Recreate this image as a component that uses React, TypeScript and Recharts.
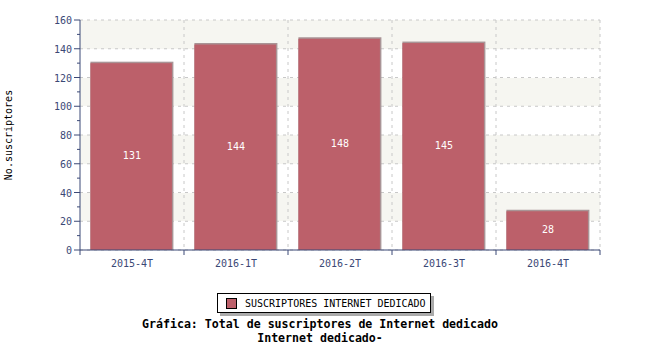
import React from 'react';
import { BarChart, Bar, XAxis, YAxis, CartesianGrid, LabelList } from 'recharts';

const periods = ['2015-4T', '2016-1T', '2016-2T', '2016-3T', '2016-4T'];
const subscribers = [131, 144, 148, 145, 28];
const yTicks = [0, 10, 20, 30, 40, 50, 60, 70, 80, 90, 100, 110, 120, 130, 140, 150, 160];
const gridValues = [0, 20, 40, 60, 80, 100, 120, 140, 160];
const yMax = 160;

const data = periods.map((p, i) => ({ period: p, value: subscribers[i] }));

const W = 650;
const H = 350;
const LEFT = 80;
const RIGHT = 600;
const TOP = 20;
const BOTTOM = 250;
const X_AXIS_H = 30;
const band = (RIGHT - LEFT) / periods.length;

const navy = '#3b4876';
const mono = '"DejaVu Sans Mono", "Liberation Mono", monospace';

const YTick = (props: any) => {
  const { x, y, payload } = props;
  const major = payload.value % 20 === 0;
  return (
    <g>
      <line x1={x} x2={x - (major ? 6 : 3)} y1={y} y2={y} stroke={navy} strokeWidth={1} />
      {major && (
        <text x={x - 8} y={y} dy={4} textAnchor="end" fontSize={10} fontFamily={mono} fill={navy}>
          {payload.value}
        </text>
      )}
    </g>
  );
};

const XTick = (props: any) => {
  const { x, y, payload, index } = props;
  return (
    <g>
      {index === 0 && <line x1={x - band / 2} x2={x - band / 2} y1={y} y2={y + 5} stroke={navy} />}
      <line x1={x + band / 2} x2={x + band / 2} y1={y} y2={y + 5} stroke={navy} />
      <text x={x} y={y + 17} textAnchor="middle" fontSize={10} fontFamily={mono} fill={navy}>
        {payload.value}
      </text>
    </g>
  );
};

const BarShape = (props: any) => {
  const { x, y, width, height } = props;
  return (
    <g>
      <rect x={x} y={y} width={width} height={height} fill="#a99496" />
      <rect x={x} y={y + 1.5} width={width - 1.5} height={height - 1.5} fill="#bc606a" />
    </g>
  );
};

const LegendBox = () => (
  <div
    style={{
      position: 'absolute',
      left: 217,
      top: 293,
      width: 214,
      height: 20,
      border: '1px solid #000',
      background: '#fff',
      boxShadow: '3px 3px 0 #aaaaaa',
      display: 'flex',
      alignItems: 'center',
      fontFamily: mono,
      fontSize: 10,
      color: '#000',
      boxSizing: 'border-box',
    }}
  >
    <span
      style={{
        display: 'inline-block',
        width: 9,
        height: 9,
        background: '#bc606a',
        border: '1px solid #000',
        marginLeft: 8,
        marginRight: 8,
      }}
    />
    SUSCRIPTORES INTERNET DEDICADO
  </div>
);

export default function App() {
  return (
    <div style={{ position: 'absolute', left: 0, top: 0, width: W, height: H, background: '#fff' }}>
      <BarChart
        width={W}
        height={H}
        data={data}
        margin={{ top: TOP, right: W - RIGHT, left: 0, bottom: H - BOTTOM - X_AXIS_H }}
        barCategoryGap="10%"
      >
        <CartesianGrid
          stroke="#c8c8c8"
          strokeDasharray="3 4"
          horizontalFill={['#f6f6f1', '#ffffff']}
          horizontalCoordinatesGenerator={({ offset }: any) =>
            gridValues.map((v) => offset.top + ((yMax - v) / yMax) * offset.height)
          }
          verticalCoordinatesGenerator={({ offset }: any) =>
            periods.map((_, i) => offset.left + (offset.width / periods.length) * (i + 1))
          }
        />
        <XAxis
          dataKey="period"
          height={X_AXIS_H}
          stroke={navy}
          tickSize={0}
          tickMargin={0}
          tickLine={false}
          interval={0}
          tick={<XTick />}
        />
        <YAxis
          width={LEFT}
          domain={[0, yMax]}
          ticks={yTicks}
          interval={0}
          stroke={navy}
          tickSize={0}
          tickMargin={0}
          tickLine={false}
          tick={<YTick />}
          label={{
            value: 'No.suscriptores',
            angle: -90,
            position: 'insideLeft',
            offset: 0,
            dx: 8,
            style: { fontFamily: mono, fontSize: 10, fill: '#000', textAnchor: 'middle' },
          }}
        />
        <Bar dataKey="value" shape={<BarShape />} isAnimationActive={false}>
          <LabelList
            dataKey="value"
            position="center"
            fill="#ffffff"
            fontSize={10}
            fontFamily={mono}
          />
        </Bar>
      </BarChart>
      <LegendBox />
      <div
        style={{
          position: 'absolute',
          left: 0,
          top: 317,
          width: W - 10,
          textAlign: 'center',
          fontFamily: mono,
          fontWeight: 'bold',
          fontSize: 11.6,
          lineHeight: '14px',
          color: '#000',
        }}
      >
        <div>Gráfica: Total de suscriptores de Internet dedicado</div>
        <div>Internet dedicado-</div>
      </div>
    </div>
  );
}
